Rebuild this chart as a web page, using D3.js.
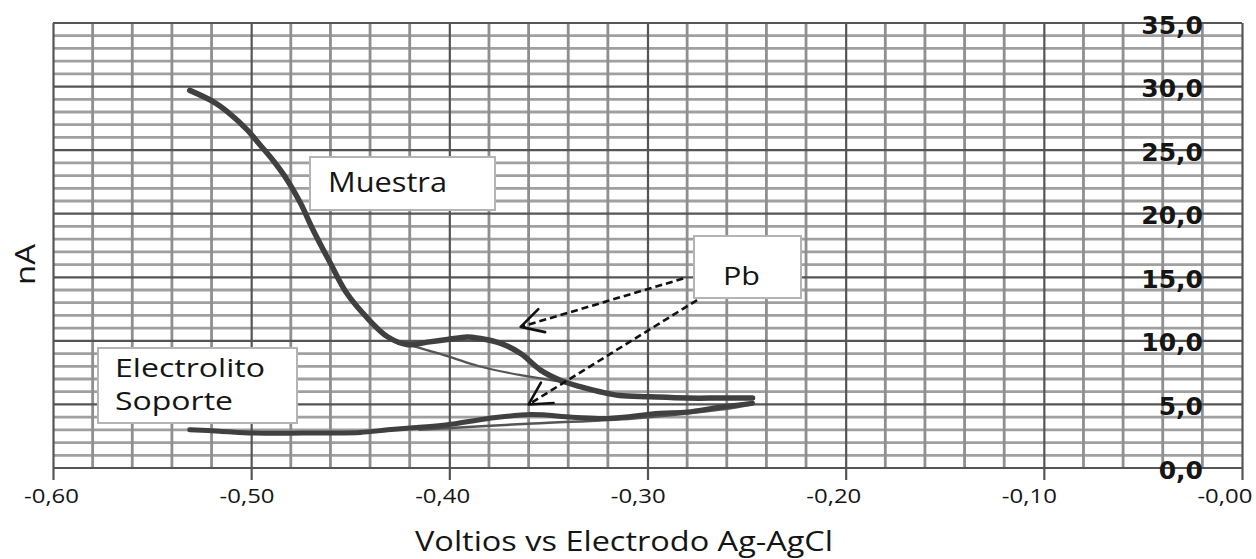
<!DOCTYPE html>
<html>
<head>
<meta charset="utf-8">
<script src="https://cdn.jsdelivr.net/npm/d3@7"></script>
<style>
  body { margin: 0; background: #fff; }
  svg { display: block; }
  text { font-family: "Open Sans", sans-serif; fill: #151515; }
</style>
</head>
<body>
<svg id="chart" width="1256" height="559"></svg>
<script>
// values (volts vs nA)
const xTicks = [-0.60, -0.50, -0.40, -0.30, -0.20, -0.10, 0];
const xLabels = ["-0,60", "-0,50", "-0,40", "-0,30", "-0,20", "-0,10", "-0,00"];
const yTicks = [0, 5, 10, 15, 20, 25, 30, 35];
const yLabels = ["0,0", "5,0", "10,0", "15,0", "20,0", "25,0", "30,0", "35,0"];

const muestra = [
  [-0.531, 29.7], [-0.519, 28.8], [-0.511, 27.9], [-0.502, 26.6], [-0.496, 25.5],
  [-0.489, 24.2], [-0.482, 22.7], [-0.475, 20.8], [-0.469, 18.8], [-0.460, 16.1],
  [-0.452, 13.8], [-0.442, 11.9], [-0.431, 10.3], [-0.421, 9.7], [-0.411, 9.9],
  [-0.401, 10.1], [-0.391, 10.3], [-0.385, 10.2], [-0.374, 9.8], [-0.364, 9.0],
  [-0.354, 7.7], [-0.344, 6.9], [-0.334, 6.4], [-0.324, 6.0], [-0.314, 5.7],
  [-0.299, 5.6], [-0.280, 5.5], [-0.263, 5.5], [-0.247, 5.5]
];
const muestraBase = [[-0.421, 9.7], [-0.401, 8.8], [-0.385, 8.0], [-0.364, 7.3], [-0.344, 6.8]];

const electrolito = [
  [-0.531, 3.0], [-0.516, 2.9], [-0.499, 2.75], [-0.474, 2.75], [-0.445, 2.8],
  [-0.431, 3.0], [-0.415, 3.2], [-0.401, 3.4], [-0.380, 3.9], [-0.359, 4.2],
  [-0.338, 4.0], [-0.320, 3.9], [-0.294, 4.3], [-0.280, 4.4], [-0.263, 4.8], [-0.247, 5.1]
];
const electrolitoBase = [[-0.415, 3.0], [-0.358, 3.5], [-0.307, 3.9], [-0.263, 4.6], [-0.247, 5.0]];

// Pb arrows: [start, tip] in data units
const pbArrows = [
  [[-0.282, 14.9], [-0.364, 11.1]],
  [[-0.275, 13.2], [-0.360, 5.0]]
];

const svg = d3.select("#chart");
const plot = { left: 53, right: 1242, top: 23, bottom: 468 };

const x = d3.scaleLinear().domain([-0.6, 0]).range([plot.left, plot.right]);
const y = d3.scaleLinear().domain([0, 35]).range([plot.bottom, plot.top]);

// grid
const isMajorX = d => Math.abs(Math.round(d * 10) - d * 10) < 1e-6;
const isMajorY = d => d % 5 === 0;
const grid = svg.append("g");

grid.selectAll(".hminor")
  .data(y.ticks(35).filter(d => !isMajorY(d)))
  .join("line")
  .attr("x1", plot.left).attr("x2", plot.right)
  .attr("y1", d => y(d)).attr("y2", d => y(d))
  .attr("stroke", "#a0a0a0").attr("stroke-width", 2.8);

grid.selectAll(".vminor")
  .data(x.ticks(30).filter(d => !isMajorX(d)))
  .join("line")
  .attr("x1", d => x(d)).attr("x2", d => x(d))
  .attr("y1", plot.top).attr("y2", plot.bottom)
  .attr("stroke", "#8f8f8f").attr("stroke-width", 2.8);

grid.selectAll(".hmajor")
  .data(yTicks)
  .join("line")
  .attr("x1", plot.left).attr("x2", plot.right)
  .attr("y1", d => y(d)).attr("y2", d => y(d))
  .attr("stroke", "#555").attr("stroke-width", 2.2);

// x axis (major ticks run from the top of the plot)
const xAxis = svg.append("g")
  .attr("transform", `translate(0,${plot.bottom})`)
  .call(d3.axisBottom(x).tickValues(xTicks).tickSize(12)
    .tickFormat((d, i) => xLabels[i]));
xAxis.select(".domain").remove();
xAxis.selectAll(".tick line")
  .attr("y1", plot.top - plot.bottom)
  .attr("stroke", "#555").attr("stroke-width", 2.2);
xAxis.selectAll(".tick text")
  .attr("y", 35).attr("dy", null)
  .attr("x", (d, i) => -2 - 2.6 * i)
  .attr("textLength", 55).attr("lengthAdjust", "spacingAndGlyphs")
  .style("font-family", "'Open Sans', sans-serif")
  .style("font-size", "20px").attr("fill", "#151515");

svg.append("line")
  .attr("x1", plot.left).attr("x2", plot.right)
  .attr("y1", plot.top).attr("y2", plot.top)
  .attr("stroke", "#555").attr("stroke-width", 2.2);

// y labels sit inside the plot, near the right edge
const yAxis = svg.append("g")
  .attr("transform", "translate(1203,2)")
  .call(d3.axisLeft(y).tickValues(yTicks).tickSize(0).tickPadding(0)
    .tickFormat((d, i) => yLabels[i]));
yAxis.select(".domain").remove();
yAxis.selectAll(".tick text")
  .style("font-family", "'DejaVu Sans', sans-serif")
  .style("font-size", "25px").style("font-weight", "bold")
  .attr("fill", "#1e1e1e");

// axis titles
svg.append("text")
  .attr("x", 415).attr("y", 551)
  .attr("textLength", 418).attr("lengthAdjust", "spacingAndGlyphs")
  .style("font-size", "27px")
  .text("Voltios vs Electrodo Ag-AgCl");

svg.append("text")
  .attr("transform", "translate(35,285) rotate(-90)")
  .attr("textLength", 41).attr("lengthAdjust", "spacingAndGlyphs")
  .style("font-size", "28px")
  .text("nA");

// annotation boxes
const boxes = [
  { x: 310, y: 157, w: 185, h: 53, lines: [{ t: "Muestra", x: 328, y: 192, len: 119, fs: 28 }] },
  { x: 694, y: 236, w: 107, h: 62, lines: [{ t: "Pb", x: 723, y: 285, len: 37, fs: 25 }] },
  { x: 98, y: 348, w: 199, h: 75, lines: [
      { t: "Electrolito", x: 115, y: 377, len: 150, fs: 26 },
      { t: "Soporte", x: 115, y: 410, len: 118, fs: 26 }] }
];
const note = svg.append("g").selectAll("g").data(boxes).join("g");
note.append("rect")
  .attr("x", d => d.x).attr("y", d => d.y)
  .attr("width", d => d.w).attr("height", d => d.h)
  .attr("fill", "#fff").attr("stroke", "#b4b4b4").attr("stroke-width", 2);
note.selectAll("text").data(d => d.lines).join("text")
  .attr("x", d => d.x).attr("y", d => d.y)
  .attr("textLength", d => d.len).attr("lengthAdjust", "spacingAndGlyphs")
  .style("font-size", d => d.fs + "px")
  .text(d => d.t);

// curves
const line = d3.line().x(d => x(d[0])).y(d => y(d[1])).curve(d3.curveCatmullRom);
const curves = svg.append("g").attr("fill", "none").attr("stroke-linecap", "round").attr("stroke-linejoin", "round");
curves.append("path").datum(muestraBase).attr("d", line).attr("stroke", "#555").attr("stroke-width", 2.2);
curves.append("path").datum(electrolitoBase).attr("d", line).attr("stroke", "#555").attr("stroke-width", 2.5);
curves.append("path").datum(muestra).attr("d", line).attr("stroke", "#404040").attr("stroke-width", 5.5);
curves.append("path").datum(electrolito).attr("d", line).attr("stroke", "#404040").attr("stroke-width", 5);

// dashed Pb arrows with open heads
const arrows = svg.append("g").attr("fill", "none").attr("stroke", "#111").attr("stroke-width", 2.6);
pbArrows.forEach(([s, t]) => {
  const x0 = x(s[0]), y0 = y(s[1]), x1 = x(t[0]), y1 = y(t[1]);
  arrows.append("line")
    .attr("x1", x0).attr("y1", y0).attr("x2", x1).attr("y2", y1)
    .attr("stroke-dasharray", "7,4");
  const a = Math.atan2(y0 - y1, x0 - x1), len = 25, spread = 0.5;
  arrows.append("path")
    .attr("stroke-linecap", "round").attr("stroke-linejoin", "round")
    .attr("d", `M${x1 + len * Math.cos(a - spread)},${y1 + len * Math.sin(a - spread)}`
      + `L${x1},${y1}L${x1 + len * Math.cos(a + spread)},${y1 + len * Math.sin(a + spread)}`);
});
</script>
</body>
</html>
